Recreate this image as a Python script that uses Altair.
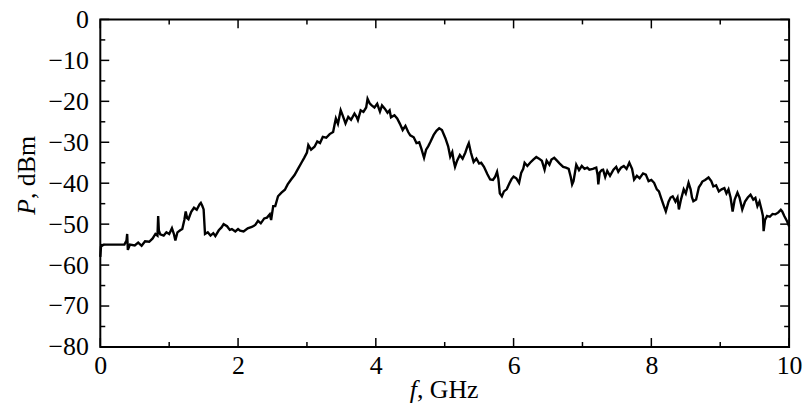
import altair as alt
import pandas as pd

# Spectrum trace (f in GHz, P in dBm)
freq = [0.00, 0.01, 0.05, 0.20, 0.35, 0.38, 0.39, 0.40, 0.43, 0.50, 0.55, 0.60, 0.65, 0.71, 0.76, 0.80, 0.83, 0.84, 0.85, 0.87,
        0.92, 0.96, 1.00, 1.04, 1.07, 1.09, 1.12, 1.16, 1.19, 1.22, 1.24, 1.26, 1.28, 1.32, 1.36, 1.40, 1.44, 1.46, 1.48, 1.50,
        1.52, 1.56, 1.60, 1.64, 1.67, 1.72, 1.76, 1.79, 1.84, 1.88, 1.91, 1.96, 2.00, 2.03, 2.08, 2.14, 2.20, 2.25, 2.29, 2.33,
        2.38, 2.42, 2.46, 2.48, 2.51, 2.54, 2.58, 2.63, 2.68, 2.72, 2.77, 2.82, 2.87, 2.92, 2.96, 3.00, 3.02, 3.06, 3.11, 3.15,
        3.19, 3.23, 3.28, 3.33, 3.38, 3.40, 3.42, 3.45, 3.49, 3.52, 3.56, 3.60, 3.64, 3.69, 3.72, 3.74, 3.78, 3.82, 3.86, 3.88,
        3.91, 3.94, 3.98, 4.02, 4.06, 4.09, 4.13, 4.17, 4.20, 4.22, 4.27, 4.31, 4.35, 4.39, 4.43, 4.47, 4.50, 4.55, 4.59, 4.63,
        4.66, 4.70, 4.73, 4.76, 4.79, 4.84, 4.88, 4.92, 4.96, 5.01, 5.05, 5.08, 5.11, 5.13, 5.15, 5.18, 5.22, 5.26, 5.30, 5.33,
        5.35, 5.38, 5.42, 5.46, 5.50, 5.53, 5.57, 5.62, 5.66, 5.70, 5.73, 5.76, 5.78, 5.80, 5.83, 5.86, 5.90, 5.94, 5.97, 6.00,
        6.04, 6.08, 6.11, 6.14, 6.16, 6.20, 6.24, 6.29, 6.33, 6.37, 6.41, 6.45, 6.48, 6.52, 6.55, 6.59, 6.63, 6.67, 6.72, 6.76,
        6.80, 6.83, 6.85, 6.87, 6.89, 6.91, 6.95, 6.99, 7.03, 7.07, 7.10, 7.15, 7.20, 7.22, 7.23, 7.25, 7.28, 7.30, 7.33, 7.36,
        7.40, 7.45, 7.49, 7.52, 7.56, 7.60, 7.64, 7.68, 7.72, 7.75, 7.79, 7.83, 7.88, 7.92, 7.96, 8.00, 8.04, 8.08, 8.11, 8.14,
        8.18, 8.21, 8.25, 8.28, 8.31, 8.35, 8.38, 8.40, 8.43, 8.47, 8.50, 8.54, 8.57, 8.59, 8.61, 8.65, 8.69, 8.72, 8.74, 8.78,
        8.83, 8.87, 8.90, 8.94, 8.98, 9.02, 9.06, 9.09, 9.12, 9.15, 9.18, 9.21, 9.25, 9.28, 9.32, 9.36, 9.40, 9.44, 9.48, 9.51,
        9.54, 9.57, 9.60, 9.62, 9.63, 9.65, 9.68, 9.72, 9.76, 9.80, 9.84, 9.88, 9.90, 9.93, 9.97, 10.00]

power = [-58.0, -55.5, -55.0, -55.0, -55.0, -54.0, -52.4, -56.3, -55.0, -55.2, -54.5, -55.3, -54.2, -54.3, -53.5, -52.4, -52.8, -48.0, -51.5, -52.5,
         -52.8, -52.0, -52.4, -51.0, -52.5, -54.0, -52.0, -51.5, -51.2, -49.0, -46.9, -48.5, -48.8, -47.0, -46.0, -46.5, -45.2, -44.8, -45.5, -46.4,
         -52.4, -52.0, -52.8, -52.2, -52.9, -51.5, -50.8, -50.0, -50.5, -51.4, -51.2, -51.8, -51.2, -51.6, -51.8, -51.0, -50.7, -50.2, -49.2, -49.8,
         -48.6, -48.4, -47.6, -49.0, -45.6, -45.6, -43.2, -42.3, -41.6, -40.3, -39.1, -38.0, -36.5, -35.0, -33.8, -32.5, -30.7, -31.8, -31.1, -29.8,
         -30.2, -28.7, -28.9, -28.0, -27.5, -25.8, -24.2, -25.5, -22.2, -23.5, -25.4, -23.8, -24.5, -23.0, -23.8, -24.6, -22.2, -22.6, -21.5, -19.4,
         -20.5, -21.0, -21.5, -20.6, -22.5, -21.0, -21.8, -22.8, -22.2, -23.9, -23.4, -24.2, -25.5, -27.0, -26.0, -27.5, -28.3, -28.8, -30.2, -30.0,
         -31.5, -33.8, -31.8, -31.0, -30.0, -28.2, -27.2, -26.6, -27.0, -29.0, -31.0, -33.5, -32.4, -34.5, -36.0, -34.5, -33.1, -34.0, -32.5, -31.0,
         -30.2, -32.5, -34.8, -34.0, -35.2, -35.0, -36.0, -37.8, -39.1, -39.2, -38.5, -37.2, -39.0, -42.5, -43.2, -42.0, -41.5, -40.0, -39.0, -38.4,
         -38.8, -39.9, -37.5, -36.5, -35.0, -35.8, -35.0, -34.2, -33.6, -34.0, -34.5, -36.7, -34.5, -35.5, -34.2, -33.8, -34.5, -35.2, -36.0, -36.2,
         -36.5, -38.5, -40.3, -39.5, -37.5, -35.5, -36.8, -35.8, -36.5, -36.2, -36.7, -36.5, -36.2, -38.0, -40.3, -37.4, -36.8, -36.7, -38.5, -37.0,
         -38.2, -36.7, -36.0, -37.2, -36.2, -35.8, -36.5, -35.0, -36.5, -39.1, -38.2, -38.8, -37.6, -37.9, -39.5, -39.2, -39.9, -41.5, -42.0, -43.5,
         -45.5, -46.9, -44.5, -43.5, -43.2, -44.5, -43.5, -46.4, -44.0, -41.5, -42.5, -39.9, -41.5, -43.5, -44.4, -44.0, -41.0, -40.2, -39.6, -39.2,
         -38.6, -39.5, -40.8, -40.5, -42.0, -41.5, -41.2, -42.5, -41.5, -43.5, -46.9, -44.0, -42.3, -43.5, -46.4, -44.5, -43.5, -42.8, -44.0, -43.6,
         -45.6, -44.5, -46.5, -48.0, -51.7, -49.0, -48.0, -48.2, -47.5, -47.6, -47.2, -46.5, -46.9, -48.0, -49.3, -50.5]

x_major = [0, 2, 4, 6, 8, 10]
x_minor = [1, 3, 5, 7, 9]
y_major = [-80, -70, -60, -50, -40, -30, -20, -10, 0]
y_minor = [-75, -65, -55, -45, -35, -25, -15, -5]

W, H = 694, 330
FONT = "Liberation Serif"
FS = 26
MAJ, MIN = 9, 5

xs = alt.Scale(domain=[0, 10], nice=False, zero=False)
ys = alt.Scale(domain=[-80, 0], nice=False, zero=False)

xaxis = alt.Axis(values=x_major, ticks=False, domain=False, grid=False, title=None,
                 labelFont=FONT, labelFontSize=FS, labelColor="black", labelPadding=6,
                 labelFlush=False, labelOverlap=False, format="d")
yaxis = alt.Axis(values=y_major, ticks=False, domain=False, grid=False, title=None,
                 labelFont=FONT, labelFontSize=FS, labelColor="black", labelPadding=12,
                 labelFlush=False, labelOverlap=False, format="d")

df = pd.DataFrame({"f": freq, "P": power})

line = alt.Chart(df).mark_line(color="black", strokeWidth=2.4, strokeJoin="miter").encode(
    x=alt.X("f:Q", scale=xs, axis=xaxis),
    y=alt.Y("P:Q", scale=ys, axis=yaxis),
)


def yticks(vals, length):
    d = pd.DataFrame({"P": vals})
    left = alt.Chart(d).mark_rule(color="black", strokeWidth=1.5).encode(
        y=alt.Y("P:Q", scale=ys, axis=yaxis), x=alt.value(0), x2=alt.value(length))
    right = alt.Chart(d).mark_rule(color="black", strokeWidth=1.5).encode(
        y=alt.Y("P:Q", scale=ys, axis=yaxis), x=alt.value(W - length), x2=alt.value(W))
    return [left, right]


def xticks(vals, length):
    d = pd.DataFrame({"f": vals})
    bottom = alt.Chart(d).mark_rule(color="black", strokeWidth=1.5).encode(
        x=alt.X("f:Q", scale=xs, axis=xaxis), y=alt.value(H), y2=alt.value(H - length))
    top = alt.Chart(d).mark_rule(color="black", strokeWidth=1.5).encode(
        x=alt.X("f:Q", scale=xs, axis=xaxis), y=alt.value(0), y2=alt.value(length))
    return [bottom, top]


ticks = yticks(y_major, MAJ) + yticks(y_minor, MIN) + xticks(x_major, MAJ) + xticks(x_minor, MIN)

lbl = pd.DataFrame({"a": [0]})
yt_P = alt.Chart(lbl).mark_text(text="P", font=FONT, fontSize=FS, fontStyle="italic", angle=270,
                                align="right", baseline="alphabetic", color="black").encode(
    x=alt.value(-66), y=alt.value(181))
yt_rest = alt.Chart(lbl).mark_text(text=", dBm", font=FONT, fontSize=FS, angle=270,
                                   align="left", baseline="alphabetic", color="black").encode(
    x=alt.value(-66), y=alt.value(181))
xt_f = alt.Chart(lbl).mark_text(text="f", font=FONT, fontSize=FS, fontStyle="italic",
                                align="right", baseline="alphabetic", color="black").encode(
    x=alt.value(319), y=alt.value(381))
xt_rest = alt.Chart(lbl).mark_text(text=", GHz", font=FONT, fontSize=FS,
                                   align="left", baseline="alphabetic", color="black").encode(
    x=alt.value(319), y=alt.value(381))

chart = alt.layer(line, *ticks, yt_P, yt_rest, xt_f, xt_rest).properties(
    width=W, height=H,
    autosize=alt.AutoSizeParams(type="none"),
    padding={"left": 93, "top": 10, "right": 14, "bottom": 64},
    background="white",
).configure_view(stroke="black", strokeWidth=2).configure_axis(
    labelFont=FONT, labelFontSize=FS, labelColor="black"
)

chart.save("out.html", embed_options={"renderer": "svg", "actions": False})
